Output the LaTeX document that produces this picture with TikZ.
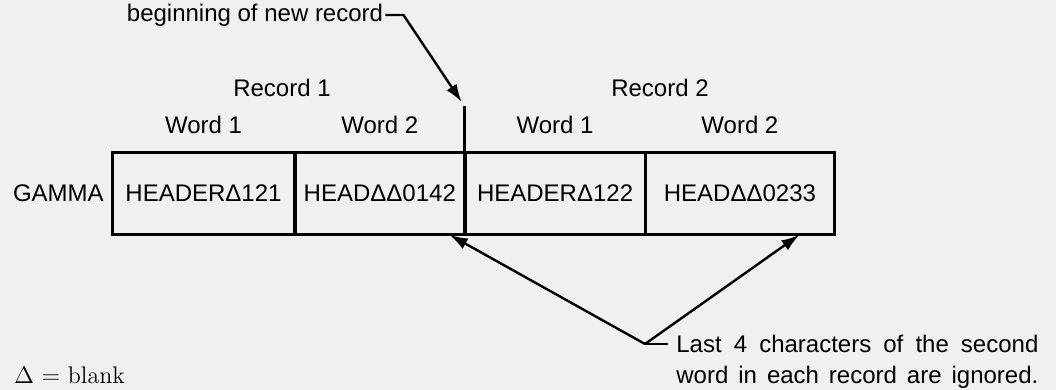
\documentclass[tikz,border=0pt]{standalone}
\usepackage{fontspec}
\setsansfont{Liberation Sans}
\usetikzlibrary{positioning,arrows.meta}

\begin{document}
\begin{tikzpicture}[x=0.5pt, y=0.5pt, node distance=0pt,
  font=\sffamily\fontsize{12}{15.5}\selectfont,
  cell/.style={draw, line width=0.9pt, minimum height=40.5pt, inner sep=0pt},
  lbl/.style={inner sep=1pt},
  pointer/.style={line width=1.2pt, -{Latex[length=9pt,width=6pt]}}]
\fill[gray!12] (0,0) rectangle (1056,390);
\useasboundingbox (0,0) rectangle (1056,390);
\node[cell, minimum width=90.5pt] (r1w1) at (203.5,196.5) {HEADERΔ121};
\node[cell, minimum width=84pt, right=of r1w1] (r1w2) {HEADΔΔ0142};
\node[cell, minimum width=89.5pt, right=of r1w2] (r2w1) {HEADERΔ122};
\node[cell, minimum width=93.5pt, right=of r2w1] (r2w2) {HEADΔΔ0233};
\draw[line width=1.5pt] (r1w1.north west) rectangle (r2w2.south east);
\node[lbl, left=3pt of r1w1] (gamma) {GAMMA};
\foreach \c/\n in {r1w1/1, r1w2/2, r2w1/1, r2w2/2}
  \node[lbl, above=8pt of \c] (\c-lbl) {Word \n};
\node[lbl] (rec1) at (282,302) {Record 1};
\node[lbl] (rec2) at (660,302) {Record 2};
\coordinate[above=23pt of r2w1.north west] (recsplit);
\draw[line width=1.4pt] (r2w1.north west) -- (recsplit);
\node[lbl] (newrec) at (255,375) {beginning of new record};
\draw[pointer] (newrec.east) -- ++(9pt,0) -- ([shift={(-1.5pt,2pt)}]recsplit);
\node[anchor=north west, align=left, inner sep=0pt] (note) at (676,55)
  {\makebox[181pt][s]{Last 4 characters of the second}\\
   \makebox[181pt][s]{word in each record are ignored.}};
\coordinate (fork) at ([shift={(-15.5pt,-4.5pt)}]note.north west);
\draw[line width=1.2pt] (fork) -- ++(11.5pt,0);
\draw[pointer] (fork) -- ([xshift=-7.5pt]r1w2.south east);
\draw[pointer] (fork) -- ([xshift=-17.5pt]r2w2.south east);
\node[anchor=west, inner sep=0pt, font=\rmfamily\fontsize{12}{14}\selectfont] (key) at (14,15) {$\Delta$ = blank};
\end{tikzpicture}
\end{document}
